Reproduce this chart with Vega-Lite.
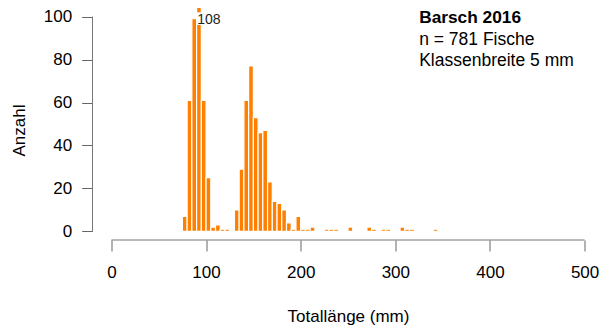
{
  "$schema": "https://vega.github.io/schema/vega-lite/v6.json",
  "width": 511,
  "height": 232,
  "autosize": "none",
  "padding": {"left": 92.5, "top": 8, "right": 0, "bottom": 89},
  "background": "white",
  "config": {"view": {"stroke": null}, "font": "Liberation Sans"},
  "datasets": {
    "bins": [
      {"start": 75, "end": 80, "count": 7},
      {"start": 80, "end": 85, "count": 61},
      {"start": 85, "end": 90, "count": 99},
      {"start": 90, "end": 95, "count": 108},
      {"start": 95, "end": 100, "count": 61},
      {"start": 100, "end": 105, "count": 25},
      {"start": 105, "end": 110, "count": 2},
      {"start": 110, "end": 115, "count": 3},
      {"start": 115, "end": 120, "count": 1},
      {"start": 120, "end": 125, "count": 1},
      {"start": 130, "end": 135, "count": 10},
      {"start": 135, "end": 140, "count": 29},
      {"start": 140, "end": 145, "count": 61},
      {"start": 145, "end": 150, "count": 77},
      {"start": 150, "end": 155, "count": 53},
      {"start": 155, "end": 160, "count": 46},
      {"start": 160, "end": 165, "count": 47},
      {"start": 165, "end": 170, "count": 23},
      {"start": 170, "end": 175, "count": 14},
      {"start": 175, "end": 180, "count": 13},
      {"start": 180, "end": 185, "count": 10},
      {"start": 185, "end": 190, "count": 4},
      {"start": 190, "end": 195, "count": 1},
      {"start": 195, "end": 200, "count": 7},
      {"start": 200, "end": 205, "count": 1},
      {"start": 205, "end": 210, "count": 1},
      {"start": 210, "end": 215, "count": 2},
      {"start": 225, "end": 230, "count": 1},
      {"start": 230, "end": 235, "count": 1},
      {"start": 235, "end": 240, "count": 1},
      {"start": 250, "end": 255, "count": 2},
      {"start": 270, "end": 275, "count": 2},
      {"start": 275, "end": 280, "count": 1},
      {"start": 285, "end": 290, "count": 1},
      {"start": 290, "end": 295, "count": 1},
      {"start": 305, "end": 310, "count": 2},
      {"start": 310, "end": 315, "count": 1},
      {"start": 315, "end": 320, "count": 1},
      {"start": 340, "end": 345, "count": 1}
    ],
    "one": [{"k": 1}]
  },
  "layer": [
    {
      "data": {"name": "bins"},
      "mark": {"type": "bar", "fill": "#FF7F00", "stroke": "white", "strokeWidth": 1.2, "clip": true},
      "encoding": {
        "x": {
          "field": "start", "type": "quantitative",
          "scale": {"domain": [-20, 520], "nice": false, "zero": false},
          "axis": {
            "values": [0, 100, 200, 300, 400, 500],
            "domain": false, "grid": false,
            "tickSize": 11, "tickColor": "#666", "tickWidth": 1,
            "labelFontSize": 17, "labelColor": "#000", "labelBaseline": "alphabetic",
            "labelPadding": 26.5, "labelFlush": false,
            "title": "Totallänge (mm)", "titleFontSize": 17, "titleFontWeight": "normal",
            "titleColor": "#000", "titleBaseline": "alphabetic", "titleY": 81.5
          }
        },
        "x2": {"field": "end"},
        "y": {
          "field": "count", "type": "quantitative",
          "scale": {"domain": [-4, 104], "nice": false, "zero": false},
          "axis": {
            "values": [0, 20, 40, 60, 80, 100],
            "domain": false, "grid": false,
            "tickSize": 10.8, "tickColor": "#666", "tickWidth": 1,
            "labelFontSize": 17, "labelColor": "#000", "labelPadding": 10,
            "labelFlush": false,
            "title": "Anzahl", "titleFontSize": 17, "titleFontWeight": "normal",
            "titleColor": "#000", "titleAngle": 270, "titleBaseline": "alphabetic",
            "titleAlign": "center", "titleX": -68.4, "titleY": 122
          }
        },
        "y2": {"datum": 0}
      }
    },
    {
      "data": {"name": "one"},
      "mark": {"type": "rect", "fill": "white"},
      "encoding": {
        "x": {"datum": 90, "type": "quantitative"},
        "x2": {"datum": 116},
        "y": {"datum": 96.1, "type": "quantitative"},
        "y2": {"datum": 102}
      }
    },
    {
      "data": {"name": "one"},
      "mark": {"type": "text", "text": "108", "fontSize": 14, "align": "left", "baseline": "alphabetic", "color": "#222"},
      "encoding": {
        "x": {"datum": 90.7, "type": "quantitative"},
        "y": {"datum": 96.5, "type": "quantitative"}
      }
    },
    {
      "data": {"name": "one"},
      "mark": {"type": "text", "text": "Barsch 2016", "fontSize": 17.3, "fontWeight": "bold", "align": "left", "baseline": "alphabetic", "color": "#000"},
      "encoding": {
        "x": {"datum": 325.2, "type": "quantitative"},
        "y": {"datum": 97.0, "type": "quantitative"}
      }
    },
    {
      "data": {"name": "one"},
      "mark": {"type": "text", "text": "n = 781 Fische", "fontSize": 17.5, "align": "left", "baseline": "alphabetic", "color": "#000"},
      "encoding": {
        "x": {"datum": 325.2, "type": "quantitative"},
        "y": {"datum": 87.0, "type": "quantitative"}
      }
    },
    {
      "data": {"name": "one"},
      "mark": {"type": "text", "text": "Klassenbreite 5 mm", "fontSize": 17.5, "align": "left", "baseline": "alphabetic", "color": "#000"},
      "encoding": {
        "x": {"datum": 325.2, "type": "quantitative"},
        "y": {"datum": 77.2, "type": "quantitative"}
      }
    },
    {
      "data": {"name": "one"},
      "mark": {"type": "rule", "color": "#777", "strokeWidth": 1},
      "encoding": {
        "x": {"datum": 0, "type": "quantitative"},
        "x2": {"datum": 500},
        "y": {"datum": -4, "type": "quantitative"}
      }
    },
    {
      "data": {"name": "one"},
      "mark": {"type": "rule", "color": "#777", "strokeWidth": 1},
      "encoding": {
        "x": {"datum": -20, "type": "quantitative"},
        "y": {"datum": 0, "type": "quantitative"},
        "y2": {"datum": 100}
      }
    }
  ]
}
